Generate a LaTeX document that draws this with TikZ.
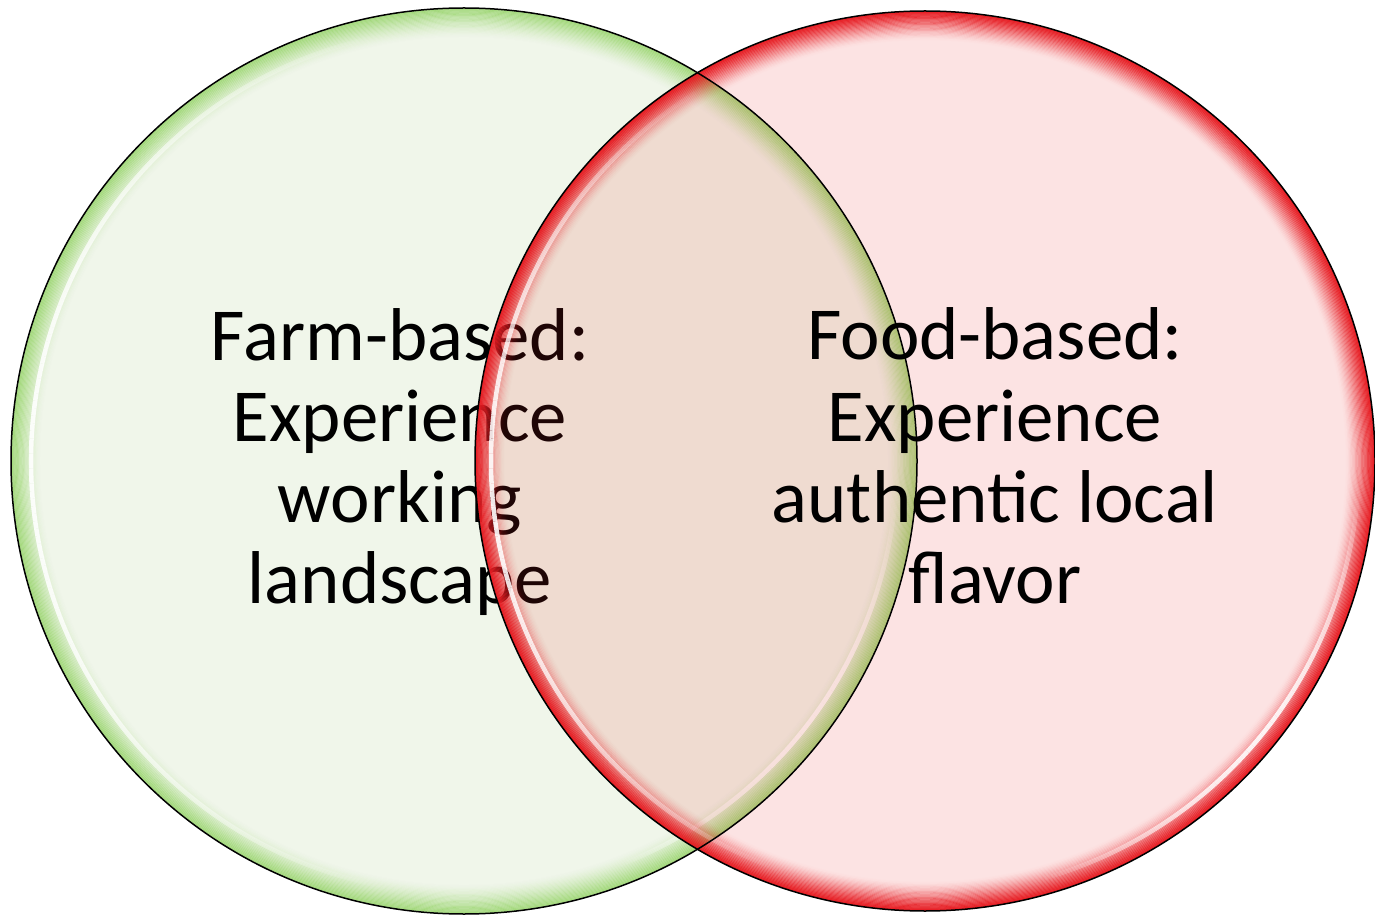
\documentclass[tikz,border=0pt]{standalone}
\usepackage{fontspec}
\setmainfont{Carlito}
\usetikzlibrary{calc}
\definecolor{farmfill}{RGB}{240,246,234}
\definecolor{farmglow}{RGB}{150,212,105}
\definecolor{foodred}{RGB}{235,40,40}
\definecolor{foodglow}{RGB}{230,28,34}
\def\glowring[#1](#2)(#3)(#4){\foreach \i in {0,...,23}{\pgfmathsetmacro{\op}{#4*(1-\i/24)^1.6}\draw[#1, line width=0.035cm, draw opacity=\op] (#2) circle ({#3-\i*1.2});}}
\def\shinearc(#1)(#2:#3:#4){\foreach \a in {#2,...,#3}{\pgfmathsetmacro{\op}{0.9*sin((\a-(#2))/((#3)-(#2))*180)}\draw[white, line width=0.09cm, draw opacity=\op] ($(#1)+({#4*cos(\a)},{#4*sin(\a)})$) arc (\a:\a+1:#4);}}
\tikzset{label text/.style={align=center, font=\fontsize{42.6}{46.2}\selectfont}}

\begin{document}
\begin{tikzpicture}[x=0.02cm, y=0.02cm]
		%%%%% START %%%%%
		\useasboundingbox (0, 0) rectangle (1375, 917);
		\coordinate (farmc) at (464, 456);
		\coordinate (foodc) at (925, 456);
		
		% farm circle
		\fill[farmfill] (farmc) circle (453);
		\glowring[farmglow](farmc)(452)(0.7)
		\shinearc(farmc)(100:260:433)
		\shinearc(farmc)(-70:-5:433)
		
		\node[label text] (farm) at (400, 455) {Farm-based:\\Experience\\working\\landscape};
		
		% food circle
		\fill[foodred, fill opacity=0.13] (foodc) circle (450);
		\glowring[foodglow](foodc)(449)(0.95)
		\shinearc(foodc)(120:250:434)
		\shinearc(foodc)(-75:-5:434)
		
		\node[label text] (food) at (995, 461) {Food-based:\\Experience\\authentic local\\flavor};
		
		\draw[line width=0.03cm] (farmc) circle (453);
		\draw[line width=0.03cm] (foodc) circle (450);
		%%%%% END %%%%%
\end{tikzpicture}
\end{document}
